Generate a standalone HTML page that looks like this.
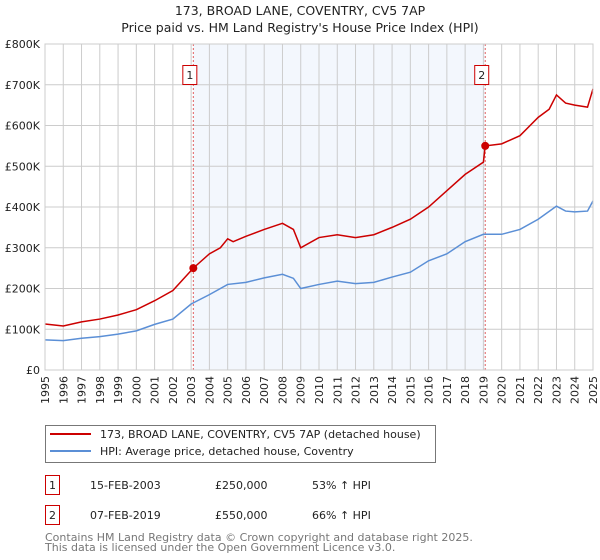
<!DOCTYPE html>
<html><head><meta charset="utf-8"><style>
body{margin:0;background:#fff;font-family:"DejaVu Sans","Liberation Sans",sans-serif;}
svg{display:block}
</style></head><body>
<svg width="600" height="560" xmlns="http://www.w3.org/2000/svg" font-family="DejaVu Sans, Liberation Sans, sans-serif">
<text x="300" y="15" text-anchor="middle" font-size="12.5" fill="#222">173, BROAD LANE, COVENTRY, CV5 7AP</text>
<text x="300" y="32" text-anchor="middle" font-size="12.5" fill="#222">Price paid vs. HM Land Registry's House Price Index (HPI)</text>
<g id="plot"></g>
<g>
<rect x="45.5" y="425.5" width="390" height="37" fill="#fff" stroke="#777"/>
<line x1="50" y1="434" x2="91" y2="434" stroke="#cc0000" stroke-width="2"/>
<text x="100" y="438" font-size="11" fill="#222">173, BROAD LANE, COVENTRY, CV5 7AP (detached house)</text>
<line x1="50" y1="451" x2="91" y2="451" stroke="#5b8fd6" stroke-width="2"/>
<text x="100" y="455" font-size="11" fill="#222">HPI: Average price, detached house, Coventry</text>
</g>
<g font-size="11" fill="#222">
<rect x="45.5" y="475.5" width="14" height="19" fill="#fff" stroke="#cc0000"/>
<text x="52.5" y="489" text-anchor="middle">1</text>
<text x="90" y="489">15-FEB-2003</text><text x="215" y="489">£250,000</text><text x="312" y="489">53% ↑ HPI</text>
<rect x="45.5" y="505.5" width="14" height="19" fill="#fff" stroke="#cc0000"/>
<text x="52.5" y="519" text-anchor="middle">2</text>
<text x="90" y="519">07-FEB-2019</text><text x="215" y="519">£550,000</text><text x="312" y="519">66% ↑ HPI</text>
</g>
<text x="45" y="541" font-size="11" fill="#777">Contains HM Land Registry data © Crown copyright and database right 2025.</text>
<text x="45" y="551" font-size="11" fill="#777">This data is licensed under the Open Government Licence v3.0.</text>
</svg>
<script>
const hpiYears=[1995,1996,1997,1998,1999,2000,2001,2002,2003,2004,2005,2006,2007,2008,2008.6,2009,2010,2011,2012,2013,2014,2015,2016,2017,2018,2019,2020,2021,2022,2023,2023.5,2024,2024.7,2025];
const hpiValues=[74,72,78,82,88,96,112,125,162,185,210,215,226,235,225,200,210,218,212,215,228,240,268,285,315,333,333,345,370,402,390,388,390,415];
const propYears=[1995,1996,1997,1998,1999,2000,2001,2002,2003.12,2004,2004.6,2005,2005.3,2006,2007,2008,2008.6,2009,2010,2011,2012,2013,2014,2015,2016,2017,2018,2019.0,2019.1,2020,2021,2022,2022.6,2023,2023.5,2024,2024.7,2025];
const propValues=[113,108,118,125,135,148,170,195,250,285,300,322,315,328,345,360,345,300,325,332,325,332,350,370,400,440,480,510,550,555,575,620,640,675,655,650,645,690];
const sales=[{n:"1",year:2003.12,value:250},{n:"2",year:2019.1,value:550}];
const yTicks=[0,100,200,300,400,500,600,700,800];
const yTickLabels=["£0","£100K","£200K","£300K","£400K","£500K","£600K","£700K","£800K"];
const X0=45,X1=593,Y0=370,Y1=44;
const xS=y=>X0+(y-1995)/30*(X1-X0);
const yS=v=>Y0-v/800*(Y0-Y1);
const NS="http://www.w3.org/2000/svg";
const g=document.getElementById('plot');
function mk(t,a){const e=document.createElementNS(NS,t);for(const k in a)e.setAttribute(k,a[k]);g.appendChild(e);return e;}
const bg=mk('rect',{x:X0,y:Y1,width:X1-X0,height:Y0-Y1,fill:'#fff'});


const sh=mk('rect',{x:xS(sales[0].year),y:Y1,width:xS(sales[1].year)-xS(sales[0].year),height:Y0-Y1,fill:'#f3f7fd'});


for(let yr=1995;yr<=2025;yr++){
 const l=mk('line',{x1:xS(yr),x2:xS(yr),y1:Y1,y2:Y0,stroke:'#ccc'});
 
 
 const t=mk('text',{x:0,y:0,'font-size':11,fill:'#222','text-anchor':'end',transform:`translate(${xS(yr)+4},${Y0+6}) rotate(-90)`});
 t.textContent=yr;
 
 
}
yTicks.forEach((v,i)=>{
 const l=mk('line',{x1:X0,x2:X1,y1:yS(v),y2:yS(v),stroke:'#ccc'});
 
 
 const t=mk('text',{x:40,y:yS(v)+4,'font-size':11,fill:'#222','text-anchor':'end'});
 t.textContent=yTickLabels[i];
 
 
});
sales.forEach(s=>{
 const l=mk('line',{x1:xS(s.year),x2:xS(s.year),y1:Y1,y2:Y0,stroke:'#e06060','stroke-dasharray':'2,2'});
 
 
 const r=mk('rect',{x:xS(s.year)-10.5,y:65.5,width:14,height:19,fill:'#fff',stroke:'#cc0000'});
 
 
 const t=mk('text',{x:xS(s.year)-3.5,y:79,'font-size':11,fill:'#222','text-anchor':'middle'});
 t.textContent=s.n;
 
 
});
const hp=mk('polyline',{points:hpiYears.map((y,i)=>xS(y)+','+yS(hpiValues[i])).join(' '),fill:'none',stroke:'#5b8fd6','stroke-width':1.5});


const pp=mk('polyline',{points:propYears.map((y,i)=>xS(y)+','+yS(propValues[i])).join(' '),fill:'none',stroke:'#cc0000','stroke-width':1.5});


sales.forEach(s=>{
 const c=mk('circle',{cx:xS(s.year),cy:yS(s.value),r:4,fill:'#cc0000'});
 
 
});
const fr=mk('rect',{x:X0,y:Y1,width:X1-X0,height:Y0-Y1,fill:'none',stroke:'#ccc'});


</script>
</body></html>
